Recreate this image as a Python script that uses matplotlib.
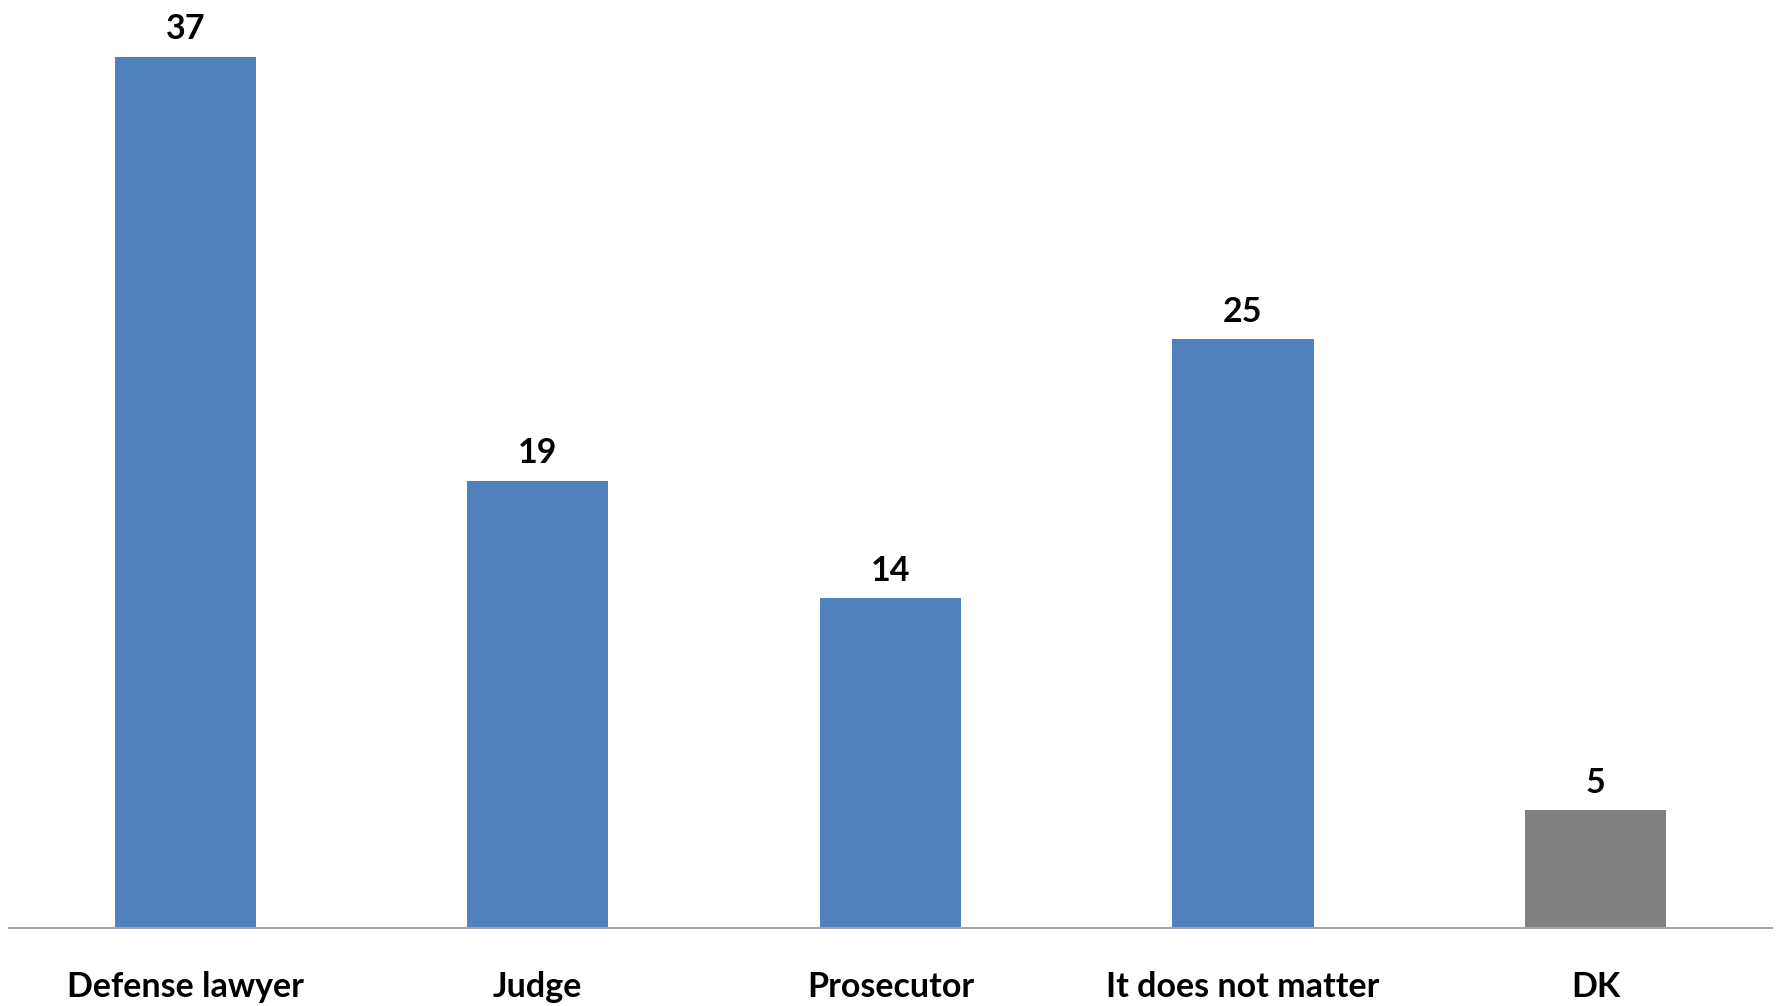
import matplotlib
matplotlib.use("Agg")
import matplotlib.pyplot as plt

categories = ["Defense lawyer", "Judge", "Prosecutor", "It does not matter", "DK"]
values = [37, 19, 14, 25, 5]
colors = ["#4F81BD", "#4F81BD", "#4F81BD", "#4F81BD", "#808080"]

plt.rcParams['font.family'] = ['Lato', 'DejaVu Sans']

fig = plt.figure(figsize=(17.79, 10.06), dpi=100)
ax = fig.add_axes([0.005, 0.0775, 0.991, 0.9225])

x = list(range(len(categories)))
bars = ax.bar(x, values, width=0.4, color=colors)

for xi, v in zip(x, values):
    ax.annotate(str(v), (xi, v), xytext=(0, 8), textcoords="offset points",
                ha="center", va="bottom", fontsize=24.5, fontweight="bold")

ax.set_xlim(-0.5, len(categories) - 0.5)
ax.set_ylim(0, 39.4)
ax.set_xticks(x)
ax.set_xticklabels(categories, fontsize=24.5, fontweight="bold")
ax.tick_params(axis='x', length=0, pad=31)
ax.set_yticks([])
for s in ["top", "right", "left"]:
    ax.spines[s].set_visible(False)
ax.spines["bottom"].set_color("#A6A6A6")
ax.spines["bottom"].set_linewidth(1.5)

fig.savefig("out.png", dpi=100)
